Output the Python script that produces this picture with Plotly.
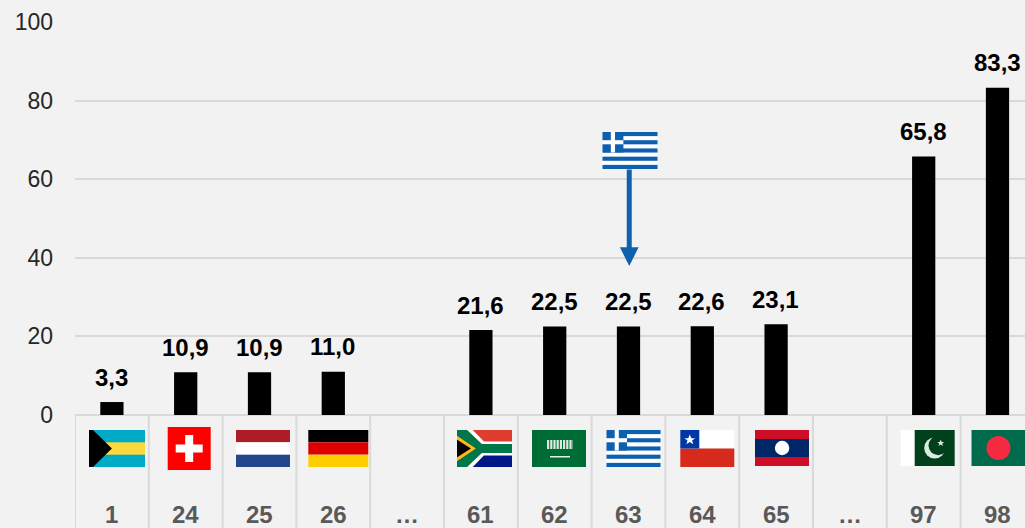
import base64
import plotly.graph_objects as go

ranks = ["1", "24", "25", "26", "…", "61", "62", "63", "64", "65", "…", "97", "98"]
values = [3.3, 10.9, 10.9, 11.0, None, 21.6, 22.5, 22.5, 22.6, 23.1, None, 65.8, 83.3]
value_labels = ["3,3", "10,9", "10,9", "11,0", "", "21,6", "22,5", "22,5", "22,6", "23,1", "", "65,8", "83,3"]
y_ticks = [0, 20, 40, 60, 80, 100]
flag_names = ["bs", "ch", "nl", "de", None, "za", "sa", "gr", "cl", "la", None, "pk", "bd"]
# flag left edge offset from the category centre, width, top and bottom, on the chart's own pixel grid
flag_dx = [-23, -18, -23.5, -25, 0, -24, -22.7, -22, -22, -21, 0, -23, -26]
flag_w = [56, 43, 54, 60, 0, 55, 54, 54, 54, 54, 0, 54, 54]
flag_top = [430, 427, 430, 430, 0, 430, 430, 430, 430, 430, 0, 430, 430]
flag_bot = [467, 470, 467, 467, 0, 467, 467, 467, 467, 466, 0, 466, 466]

SVG = {
 "bs": (56, 37, '<rect x="-4" y="-4" width="64" height="45" fill="#00a9c6"/><rect x="-4" y="12.3" width="64" height="12.4" fill="#fbd93e"/><path d="M-4 -4L0 -4L23 18.5L0 41L-4 41Z" fill="#000"/>'),
 "ch": (43, 43, '<rect x="-4" y="-4" width="51" height="51" fill="#ff0000"/><rect x="17.5" y="8" width="8" height="27" fill="#fff"/><rect x="8" y="17.5" width="27" height="8" fill="#fff"/>'),
 "nl": (54, 37, '<rect x="-4" y="-4" width="62" height="16.3" fill="#ae1c28"/><rect x="-4" y="12.3" width="62" height="12.4" fill="#fff"/><rect x="-4" y="24.7" width="62" height="16.3" fill="#21468b"/>'),
 "de": (60, 37, '<rect x="-4" y="-4" width="68" height="16.3" fill="#000"/><rect x="-4" y="12.3" width="68" height="12.4" fill="#dd0000"/><rect x="-4" y="24.7" width="68" height="16.3" fill="#ffce00"/>'),
 "za": (55, 37, '<rect x="-4" y="-4" width="63" height="22.5" fill="#e03c31"/><rect x="-4" y="18.5" width="63" height="22.5" fill="#001489"/>'
        '<path d="M-4 -4L12 -4L27 11.5L59 11.5L59 25.5L27 25.5L12 41L-4 41Z" fill="#fff"/><path d="M-4 -4L6 -4L25 14L59 14L59 23L25 23L6 41L-4 41Z" fill="#007749"/><path d="M-4 3L19 18.5L-4 34Z" fill="#ffb81c"/><path d="M-4 7L14 18.5L-4 30Z" fill="#000"/>'),
 "sa": (54, 37, '<rect x="-4" y="-4" width="62" height="45" fill="#006c35"/><line x1="15" y1="14.5" x2="41" y2="14.5" stroke="#dcebe2" stroke-width="9" stroke-dasharray="2.2 1"/><rect x="18" y="26" width="20" height="1.5" fill="#e6f0ea"/>'),
 "gr": (54, 37, '<rect x="-4" y="-4" width="62" height="45" fill="#fff"/>' +
        "".join(f'<rect x="-4" y="{4.11*i:.2f}" width="62" height="4.11" fill="#0d5eaf"/>' for i in [0, 2, 4, 6, 8]) +
        '<rect x="-4" y="-4" width="24.5" height="24.5" fill="#0d5eaf"/><rect x="8.2" y="-4" width="4.1" height="24.5" fill="#fff"/><rect x="-4" y="8.2" width="24.5" height="4.1" fill="#fff"/>'),
 "cl": (54, 37, '<rect x="-4" y="-4" width="62" height="22.5" fill="#fff"/><rect x="-4" y="18.5" width="62" height="22.5" fill="#d52b1e"/><rect x="-4" y="-4" width="23" height="22.5" fill="#0039a6"/><path d="M9.5 4.5L11 8.2L14.8 8.2L11.8 10.6L12.9 14.2L9.5 12L6.1 14.2L7.2 10.6L4.2 8.2L8 8.2Z" fill="#fff"/>'),
 "la": (54, 36, '<rect x="-4" y="-4" width="62" height="44" fill="#ce1126"/><rect x="-4" y="9" width="62" height="18" fill="#002868"/><circle cx="27" cy="18" r="7.2" fill="#fff"/>'),
 "pk": (54, 36, '<rect x="-4" y="-4" width="18" height="44" fill="#fff"/><rect x="14" y="-4" width="44" height="44" fill="#01411c"/><circle cx="34" cy="18" r="10.5" fill="#dfe9e2"/><circle cx="37.5" cy="15.5" r="9.7" fill="#01411c"/><path d="M40 9.5L41 12L43.6 12L41.5 13.6L42.3 16L40 14.6L37.8 16L38.6 13.6L36.5 12L39 12Z" fill="#dfe9e2"/>'),
 "bd": (54, 36, '<rect x="-4" y="-4" width="62" height="44" fill="#006a4e"/><circle cx="27" cy="18" r="12" fill="#f42a41"/>'),
}

def uri(name):
    w, h, body = SVG[name]
    s = (f'<svg xmlns="http://www.w3.org/2000/svg" width="{w}" height="{h}" viewBox="0 0 {w} {h}" preserveAspectRatio="none">'
         f'<defs><filter id="b" x="-20%" y="-20%" width="140%" height="140%"><feGaussianBlur stdDeviation="0.7"/></filter></defs>'
         f'<g filter="url(#b)">{body}</g></svg>')
    return "data:image/svg+xml;base64," + base64.b64encode(s.encode()).decode()

FONT = "Liberation Sans"
GRID = "#d9d9d9"
L, R, T, B = 75, 1025, 22, 528
STEP = 73.8
PX_PER_UNIT = 3.93
X_RANGE = [-0.5, -0.5 + (R - L) / STEP]
Y_RANGE = [-(B - 415) / PX_PER_UNIT, 100]
xs = list(range(len(ranks)))

def py(p):
    return (415 - p) / PX_PER_UNIT

fig = go.Figure(go.Bar(x=xs, y=values, width=0.315, marker=dict(color="#000000", line_width=0), hoverinfo="skip"))

annotations = []
for x, v, lab in zip(xs, values, value_labels):
    if v is not None:
        annotations.append(dict(x=x, y=v, text=f"<b>{lab}</b>", showarrow=False, yanchor="middle", yshift=25, xshift=-0.5,
                                font=dict(family=FONT, size=24, color="#000000")))
for x, r in zip(xs, ranks):
    annotations.append(dict(x=x, y=py(514), text=f"<b>{r}</b>", showarrow=False, yanchor="middle",
                            font=dict(family=FONT, size=24, color="#595959")))
annotations.append(dict(x=7.01, y=py(266), ax=7.01, ay=py(168), xref="x", yref="y", axref="x", ayref="y", text="",
                        showarrow=True, arrowhead=2, arrowsize=0.75, arrowwidth=5, arrowcolor="#1060b0"))

images = []
for x, n, dx, w, t, b in zip(xs, flag_names, flag_dx, flag_w, flag_top, flag_bot):
    if n:
        images.append(dict(source=uri(n), xref="x", yref="y", x=x + dx / STEP, y=py(t), sizex=w / STEP, sizey=(b - t) / PX_PER_UNIT,
                           xanchor="left", yanchor="top", sizing="stretch", layer="above"))
images.append(dict(source=uri("gr"), xref="x", yref="y", x=7 - 26 / STEP, y=py(132), sizex=55 / STEP, sizey=37 / PX_PER_UNIT,
                   xanchor="left", yanchor="top", sizing="stretch", layer="above"))

shapes = [dict(type="line", xref="x", yref="y", x0=i - 0.5, x1=i - 0.5, y0=0, y1=Y_RANGE[0], line=dict(color=GRID, width=2), layer="below")
          for i in xs]

fig.update_layout(
    width=1025, height=528, margin=dict(l=L, r=0, t=T, b=0, autoexpand=False),
    paper_bgcolor="#f2f2f2", plot_bgcolor="#f2f2f2", showlegend=False,
    font=dict(family=FONT, size=23, color="#262626"),
    annotations=annotations, images=images, shapes=shapes,
    xaxis=dict(range=X_RANGE, showticklabels=False, showgrid=False, zeroline=False, ticks=""),
    yaxis=dict(range=Y_RANGE, tickmode="array", tickvals=y_ticks, ticktext=[str(t) for t in y_ticks], showgrid=True, gridcolor=GRID,
               gridwidth=2, zeroline=True, zerolinecolor=GRID, zerolinewidth=2, ticks="", ticklabelstandoff=21,
               tickfont=dict(family=FONT, size=23, color="#262626")),
)
fig.write_html("out.html", config=dict(displayModeBar=False),
               post_script="document.body.style.margin='0';document.body.style.overflow='hidden';document.body.style.background='#f2f2f2';")
